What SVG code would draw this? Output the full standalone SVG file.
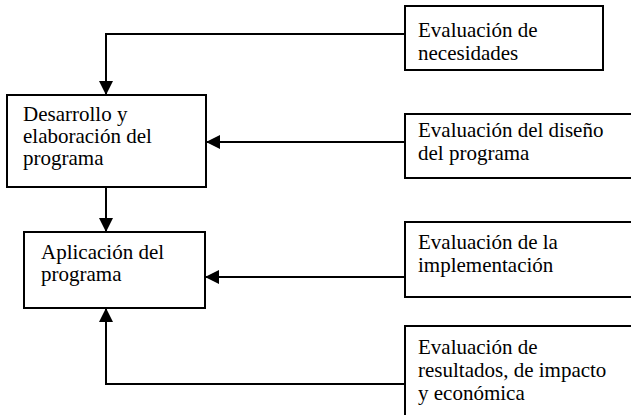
<svg xmlns="http://www.w3.org/2000/svg" width="631" height="415" viewBox="0 0 631 415">
<style>
.box{fill:#fff;stroke:#000;stroke-width:2}
.lbl{font-family:"Liberation Serif","Times New Roman",serif;font-size:21px;fill:#000}
.conn{fill:none;stroke:#000;stroke-width:2}
</style>
<defs>
<marker id="arr" markerUnits="userSpaceOnUse" markerWidth="14" markerHeight="14" refX="14" refY="7" orient="auto">
<path d="M0,0 L14,7 L0,14 z" fill="#000"/>
</marker>
</defs>
<rect width="631" height="415" fill="#fff"/>
<g id="connectors">
<path class="conn" d="M405,34 H106 V95" marker-end="url(#arr)"/>
<path class="conn" d="M405,142 H206" marker-end="url(#arr)"/>
<path class="conn" d="M106,187 V232" marker-end="url(#arr)"/>
<path class="conn" d="M405,277 H205" marker-end="url(#arr)"/>
<path class="conn" d="M405,384 H106 V308" marker-end="url(#arr)"/>
</g>
<g id="desarrollo">
<rect class="box" x="7" y="95" width="199" height="92"/>
<text class="lbl" x="23" y="121">Desarrollo y</text>
<text class="lbl" x="23" y="143">elaboración del</text>
<text class="lbl" x="23" y="165">programa</text>
</g>
<g id="aplicacion">
<rect class="box" x="24" y="232" width="181" height="76"/>
<text class="lbl" x="41" y="259">Aplicación del</text>
<text class="lbl" x="41" y="281">programa</text>
</g>
<g id="eval-necesidades">
<rect class="box" x="405" y="6" width="198" height="64"/>
<text class="lbl" x="418" y="37">Evaluación de</text>
<text class="lbl" x="418" y="60">necesidades</text>
</g>
<g id="eval-diseno">
<rect class="box" x="405" y="114" width="240" height="64"/>
<text class="lbl" x="418" y="137">Evaluación del diseño</text>
<text class="lbl" x="418" y="160">del programa</text>
</g>
<g id="eval-implementacion">
<rect class="box" x="405" y="222" width="240" height="75"/>
<text class="lbl" x="418" y="249">Evaluación de la</text>
<text class="lbl" x="418" y="272">implementación</text>
</g>
<g id="eval-resultados">
<rect class="box" x="405" y="326" width="240" height="120"/>
<text class="lbl" x="418" y="354">Evaluación de</text>
<text class="lbl" x="418" y="377">resultados, de impacto</text>
<text class="lbl" x="418" y="400">y económica</text>
</g>
</svg>
